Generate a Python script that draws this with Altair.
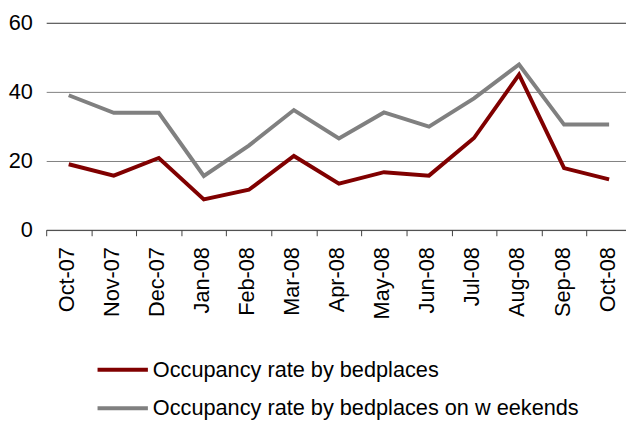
import altair as alt
import pandas as pd

months = ["Oct-07", "Nov-07", "Dec-07", "Jan-08", "Feb-08", "Mar-08", "Apr-08",
          "May-08", "Jun-08", "Jul-08", "Aug-08", "Sep-08", "Oct-08"]
bedplaces = [19.0, 15.7, 20.8, 8.8, 11.6, 21.4, 13.4, 16.7, 15.7, 26.6, 45.0, 17.9, 14.6]
weekends = [39.0, 33.9, 33.9, 15.6, 24.4, 34.7, 26.5, 34.0, 29.9, 38.1, 47.9, 30.5, 30.5]
series_names = ["Occupancy rate by bedplaces", "Occupancy rate by bedplaces on w eekends"]
series_colors = ["#800000", "#808080"]
y_ticks = [0, 20, 40, 60]

rows = []
for m, a, b in zip(months, bedplaces, weekends):
    rows.append({"month": m, "series": series_names[0], "value": a})
    rows.append({"month": m, "series": series_names[1], "value": b})
df = pd.DataFrame(rows)

FONT = "Liberation Sans"

chart = alt.Chart(df).mark_line(strokeWidth=4, strokeJoin="miter", strokeCap="butt").encode(
    x=alt.X("month:N", sort=months,
            scale=alt.Scale(type="band", paddingInner=0, paddingOuter=0),
            axis=alt.Axis(title=None, labelAngle=-90, tickBand="extent", labelFont=FONT,
                          labelFontSize=22, labelColor="#000000", labelPadding=11,
                          labelOffset=-2,
                          domainColor="#404040", tickColor="#404040", tickSize=6,
                          domainWidth=1, tickWidth=1, grid=False)),
    y=alt.Y("value:Q", scale=alt.Scale(domain=[0, 60], nice=False),
            axis=alt.Axis(title=None, values=y_ticks, domain=False, ticks=False,
                          labelFont=FONT, labelFontSize=22, labelColor="#000000",
                          labelPadding=14, grid=True, gridWidth=1,
                          gridColor={"condition": {"test": "datum.value == 60", "value": "#333333"},
                                     "value": "#808080"})),
    color=alt.Color("series:N", scale=alt.Scale(domain=series_names, range=series_colors),
                    legend=alt.Legend(title=None, orient="none", legendX=50, legendY=324,
                                      direction="vertical", symbolType="stroke",
                                      symbolSize=2601, symbolStrokeWidth=4,
                                      labelFont=FONT, labelFontSize=22, labelColor="#000000",
                                      labelOffset=3, labelLimit=0, rowPadding=-4, padding=0)),
).properties(
    width=593, height=209.7,
    autosize=alt.AutoSizeParams(type="none"),
    padding={"left": 38.7, "top": 12.3, "right": -5.7, "bottom": 191}
).configure_view(stroke=None)

chart.save("out.html", embed_options={"renderer": "svg", "actions": False})
